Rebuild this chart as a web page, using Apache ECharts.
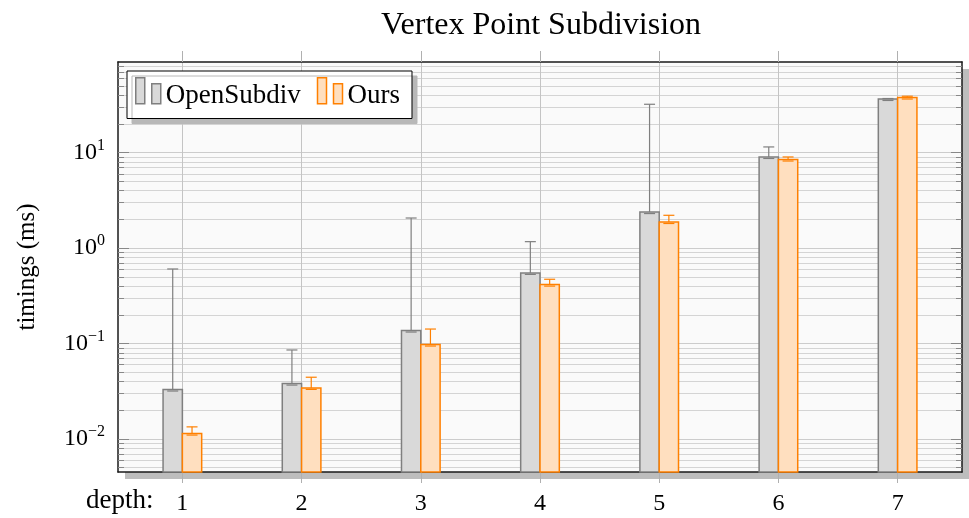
<!DOCTYPE html>
<html>
<head>
<meta charset="utf-8">
<script src="https://cdn.jsdelivr.net/npm/echarts@6/dist/echarts.min.js"></script>
<style>
html, body { margin: 0; padding: 0; background: #fff; }
#main { width: 969px; height: 518px; }
</style>
</head>
<body>
<div id="main"></div>
<script>
// depth levels (x axis)
var depths = [1, 2, 3, 4, 5, 6, 7];
// timings in ms
var openSubdiv      = [0.0330, 0.0381, 0.137, 0.550, 2.39, 9.03, 36.6];
var openSubdivUpper = [0.605, 0.0857, 2.07, 1.17, 32.2, 11.5, 37.0];
var ours            = [0.0114, 0.0343, 0.0977, 0.415, 1.88, 8.49, 37.9];
var oursUpper       = [0.0134, 0.0444, 0.142, 0.472, 2.21, 9.03, 39.1];
// y tick values
var yMajor = [0.01, 0.1, 1, 10];
var yMinor = [];
for (var k = -3; k <= 1; k++) {
    for (var m = 2; m <= 9; m++) {
        yMinor.push(+(m * Math.pow(10, k)).toPrecision(3));
    }
}

var FONT = '"Liberation Serif", "DejaVu Serif", serif';
var Y_MIN = 0.00451, Y_MAX = 89.3;
var X_MIN = 0.46, X_MAX = 7.54;
var BAR_W = 0.162;   // bar width in depth units
var CAP = 5.5;       // half width of error caps, px
// legend icon: two small bars, empty space below so the icon sits a bit high
var LEGEND_ICON = 'path://M0,0h9v26h-9zM16,6h9v20h-9zM0,36';

var GRAY = { fill: '#d9d9d9', stroke: '#7f7f7f' };
var ORANGE = { fill: '#ffdfbf', stroke: '#ff8000' };

function barRenderer(side, col) {
    return function (params, api) {
        var x = api.value(0), v = api.value(1), up = api.value(2);
        var cs = params.coordSys;
        var left = side < 0 ? x - BAR_W : x;
        var p0 = api.coord([left, v]);
        var p1 = api.coord([left + BAR_W, v]);
        var pu = api.coord([x, up]);
        var bottom = cs.y + cs.height;
        var cx = (p0[0] + p1[0]) / 2;
        var lineStyle = { stroke: col.stroke, lineWidth: 1.2 };
        return {
            type: 'group',
            children: [
                { type: 'rect', shape: { x: p0[0], y: p0[1], width: p1[0] - p0[0], height: bottom - p0[1] },
                  style: { fill: col.fill, stroke: col.stroke, lineWidth: 1.5 } },
                { type: 'line', shape: { x1: cx, y1: p0[1], x2: cx, y2: pu[1] }, style: lineStyle },
                { type: 'line', shape: { x1: cx - CAP, y1: pu[1], x2: cx + CAP, y2: pu[1] }, style: lineStyle },
                { type: 'line', shape: { x1: cx - CAP, y1: p0[1] + 1.5, x2: cx + CAP, y2: p0[1] + 1.5 }, style: lineStyle }
            ]
        };
    };
}

function supLabel(v) {
    var e = Math.round(Math.log(v) / Math.LN10);
    return '{b|10}{e|' + (e < 0 ? '\u2212' + (-e) : e) + '}';
}

var frameLine = { show: true, onZero: false, lineStyle: { color: '#1a1a1a', width: 1.5 } };

var myChart = echarts.init(document.getElementById('main'));
var option = {
    backgroundColor: '#fff',
    animation: false,
    title: {
        text: 'Vertex Point Subdivision',
        left: 376,
        top: 5,
        textStyle: { fontFamily: FONT, fontSize: 32, fontWeight: 'normal', color: '#000' }
    },
    legend: {
        left: 127,
        top: 71,
        padding: [6, 12, 4, 8],
        itemWidth: 25,
        itemHeight: 36,
        itemGap: 16,
        backgroundColor: '#fff',
        borderColor: '#000',
        borderWidth: 1,
        shadowColor: '#b8b8b8',
        shadowOffsetX: 5,
        shadowOffsetY: 5,
        textStyle: { fontFamily: FONT, fontSize: 27, lineHeight: 30, color: '#000' },
        data: [
            { name: 'OpenSubdiv', icon: LEGEND_ICON,
              itemStyle: { color: GRAY.fill, borderColor: GRAY.stroke, borderWidth: 1.5 } },
            { name: 'Ours', icon: LEGEND_ICON,
              itemStyle: { color: ORANGE.fill, borderColor: ORANGE.stroke, borderWidth: 1.5 } }
        ]
    },
    grid: {
        left: 118, top: 62, right: 7, bottom: 46,
        show: true,
        backgroundColor: '#fafafa',
        borderWidth: 0,
        shadowColor: '#bdbdbd',
        shadowBlur: 0,
        shadowOffsetX: 7,
        shadowOffsetY: 7
    },
    xAxis: [{
        type: 'value', min: X_MIN, max: X_MAX, position: 'bottom',
        axisLine: frameLine,
        axisTick: { show: true, customValues: depths, length: 11, lineStyle: { color: '#b0b0b0' } },
        axisLabel: { customValues: depths, margin: 20, fontFamily: FONT, fontSize: 24, color: '#000' },
        splitLine: { show: true, lineStyle: { color: '#c4c4c4' } }
    }, {
        type: 'value', min: X_MIN, max: X_MAX, position: 'top',
        axisLine: frameLine,
        axisTick: { show: true, customValues: depths, length: 11, lineStyle: { color: '#b0b0b0' } },
        axisLabel: { show: false },
        splitLine: { show: false }
    }],
    yAxis: [{
        type: 'log', logBase: 10, min: Y_MIN, max: Y_MAX, position: 'left',
        name: 'timings (ms)', nameLocation: 'middle', nameGap: 78,
        nameTextStyle: { fontFamily: FONT, fontSize: 25, color: '#000' },
        axisLine: frameLine,
        axisTick: { show: true, inside: true, length: 11, customValues: yMajor, lineStyle: { color: '#888' } },
        axisLabel: {
            customValues: yMajor, margin: 13, formatter: supLabel,
            rich: {
                b: { fontFamily: FONT, fontSize: 24, color: '#000', lineHeight: 30 },
                e: { fontFamily: FONT, fontSize: 16, color: '#000', verticalAlign: 'top', lineHeight: 16 }
            }
        },
        splitLine: { show: true, lineStyle: { color: '#cccccc' } }
    }, {
        type: 'log', logBase: 10, min: Y_MIN, max: Y_MAX, position: 'left',
        axisLine: { show: false },
        axisTick: { show: true, inside: true, length: 6, customValues: yMinor, lineStyle: { color: '#888' } },
        axisLabel: { show: false },
        splitLine: { show: true, lineStyle: { color: '#d4d4d4' } }
    }, {
        type: 'log', logBase: 10, min: Y_MIN, max: Y_MAX, position: 'right',
        axisLine: frameLine,
        axisTick: { show: true, inside: true, length: 11, customValues: yMajor, lineStyle: { color: '#888' } },
        axisLabel: { show: false },
        splitLine: { show: false }
    }, {
        type: 'log', logBase: 10, min: Y_MIN, max: Y_MAX, position: 'right',
        axisLine: { show: false },
        axisTick: { show: true, inside: true, length: 6, customValues: yMinor, lineStyle: { color: '#888' } },
        axisLabel: { show: false },
        splitLine: { show: false }
    }],
    graphic: [{
        type: 'text', left: 86, top: 487,
        style: { text: 'depth:', font: '27px ' + FONT, fill: '#000' }
    }],
    series: [{
        name: 'OpenSubdiv',
        type: 'custom',
        xAxisIndex: 0, yAxisIndex: 0,
        itemStyle: { color: GRAY.fill, borderColor: GRAY.stroke },
        renderItem: barRenderer(-1, GRAY),
        encode: { x: 0, y: [1, 2] },
        data: depths.map(function (d, i) { return [d, openSubdiv[i], openSubdivUpper[i]]; })
    }, {
        name: 'Ours',
        type: 'custom',
        xAxisIndex: 0, yAxisIndex: 0,
        itemStyle: { color: ORANGE.fill, borderColor: ORANGE.stroke },
        renderItem: barRenderer(1, ORANGE),
        encode: { x: 0, y: [1, 2] },
        data: depths.map(function (d, i) { return [d, ours[i], oursUpper[i]]; })
    }]
};
myChart.setOption(option);
</script>
</body>
</html>
